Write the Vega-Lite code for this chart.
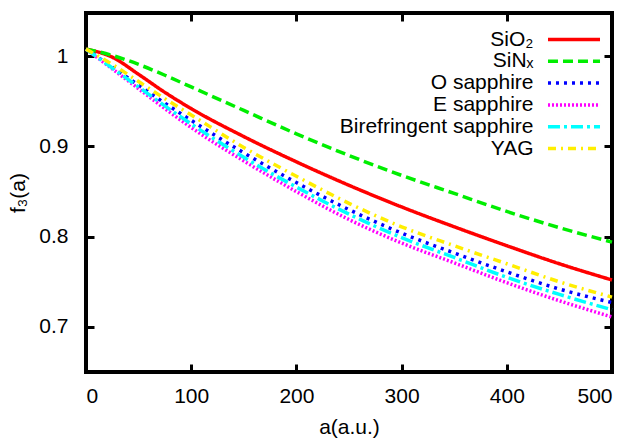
{
  "$schema": "https://vega.github.io/schema/vega-lite/v6.json",
  "autosize": "none",
  "width": 526,
  "height": 359,
  "padding": {"left": 86, "top": 13, "right": 24, "bottom": 67},
  "background": "white",
  "config": {
    "view": {"stroke": "black", "strokeWidth": 4},
    "font": "Liberation Sans",
    "axis": {
      "grid": false, "domain": false,
      "tickColor": "black", "tickWidth": 3, "tickSize": -8,
      "labelFont": "Liberation Sans", "labelFontSize": 21, "labelColor": "black",
      "titleFont": "Liberation Sans", "titleFontSize": 21, "titleFontWeight": "normal", "titleColor": "black"
    },
    "legend": {"orient": "none", "legendX": 477, "legendY": 15.5, "title": null, "symbolType": "M-2.89,0H2.89", "symbolSize": 324, "symbolStrokeWidth": 3.5, "labelAlign": "right", "labelOffset": -51.5, "labelFontSize": 21, "labelFont": "Liberation Sans", "labelColor": "black", "padding": 0, "rowPadding": 0.8, "labelLimit": 400}
  },
  "datasets": {
    "curves": [
      {"a": 0, "f": 1.008, "s": "SiO₂"}, {"a": 25, "f": 0.999, "s": "SiO₂"}, {"a": 50, "f": 0.980, "s": "SiO₂"}, {"a": 75, "f": 0.960, "s": "SiO₂"}, {"a": 100, "f": 0.942, "s": "SiO₂"}, {"a": 150, "f": 0.911, "s": "SiO₂"}, {"a": 200, "f": 0.883, "s": "SiO₂"}, {"a": 250, "f": 0.857, "s": "SiO₂"}, {"a": 300, "f": 0.833, "s": "SiO₂"}, {"a": 350, "f": 0.811, "s": "SiO₂"}, {"a": 400, "f": 0.790, "s": "SiO₂"}, {"a": 450, "f": 0.770, "s": "SiO₂"}, {"a": 500, "f": 0.752, "s": "SiO₂"},
      {"a": 0, "f": 1.008, "s": "SiNₓ"}, {"a": 25, "f": 1.001, "s": "SiNₓ"}, {"a": 50, "f": 0.991, "s": "SiNₓ"}, {"a": 75, "f": 0.979, "s": "SiNₓ"}, {"a": 100, "f": 0.966, "s": "SiNₓ"}, {"a": 150, "f": 0.940, "s": "SiNₓ"}, {"a": 200, "f": 0.914, "s": "SiNₓ"}, {"a": 250, "f": 0.890, "s": "SiNₓ"}, {"a": 300, "f": 0.868, "s": "SiNₓ"}, {"a": 350, "f": 0.848, "s": "SiNₓ"}, {"a": 400, "f": 0.828, "s": "SiNₓ"}, {"a": 450, "f": 0.810, "s": "SiNₓ"}, {"a": 500, "f": 0.794, "s": "SiNₓ"},
      {"a": 0, "f": 1.008, "s": "O sapphire"}, {"a": 25, "f": 0.988, "s": "O sapphire"}, {"a": 50, "f": 0.968, "s": "O sapphire"}, {"a": 75, "f": 0.948, "s": "O sapphire"}, {"a": 100, "f": 0.929, "s": "O sapphire"}, {"a": 150, "f": 0.893, "s": "O sapphire"}, {"a": 200, "f": 0.860, "s": "O sapphire"}, {"a": 250, "f": 0.830, "s": "O sapphire"}, {"a": 300, "f": 0.804, "s": "O sapphire"}, {"a": 350, "f": 0.782, "s": "O sapphire"}, {"a": 400, "f": 0.761, "s": "O sapphire"}, {"a": 450, "f": 0.742, "s": "O sapphire"}, {"a": 500, "f": 0.727, "s": "O sapphire"},
      {"a": 0, "f": 1.008, "s": "E sapphire"}, {"a": 25, "f": 0.986, "s": "E sapphire"}, {"a": 50, "f": 0.964, "s": "E sapphire"}, {"a": 75, "f": 0.942, "s": "E sapphire"}, {"a": 100, "f": 0.921, "s": "E sapphire"}, {"a": 150, "f": 0.884, "s": "E sapphire"}, {"a": 200, "f": 0.850, "s": "E sapphire"}, {"a": 250, "f": 0.819, "s": "E sapphire"}, {"a": 300, "f": 0.793, "s": "E sapphire"}, {"a": 350, "f": 0.771, "s": "E sapphire"}, {"a": 400, "f": 0.749, "s": "E sapphire"}, {"a": 450, "f": 0.729, "s": "E sapphire"}, {"a": 500, "f": 0.711, "s": "E sapphire"},
      {"a": 0, "f": 1.008, "s": "Birefringent sapphire"}, {"a": 25, "f": 0.987, "s": "Birefringent sapphire"}, {"a": 50, "f": 0.966, "s": "Birefringent sapphire"}, {"a": 75, "f": 0.945, "s": "Birefringent sapphire"}, {"a": 100, "f": 0.925, "s": "Birefringent sapphire"}, {"a": 150, "f": 0.888, "s": "Birefringent sapphire"}, {"a": 200, "f": 0.855, "s": "Birefringent sapphire"}, {"a": 250, "f": 0.825, "s": "Birefringent sapphire"}, {"a": 300, "f": 0.799, "s": "Birefringent sapphire"}, {"a": 350, "f": 0.777, "s": "Birefringent sapphire"}, {"a": 400, "f": 0.755, "s": "Birefringent sapphire"}, {"a": 450, "f": 0.736, "s": "Birefringent sapphire"}, {"a": 500, "f": 0.719, "s": "Birefringent sapphire"},
      {"a": 0, "f": 1.008, "s": "YAG"}, {"a": 25, "f": 0.991, "s": "YAG"}, {"a": 50, "f": 0.972, "s": "YAG"}, {"a": 75, "f": 0.953, "s": "YAG"}, {"a": 100, "f": 0.935, "s": "YAG"}, {"a": 150, "f": 0.899, "s": "YAG"}, {"a": 200, "f": 0.867, "s": "YAG"}, {"a": 250, "f": 0.837, "s": "YAG"}, {"a": 300, "f": 0.811, "s": "YAG"}, {"a": 350, "f": 0.790, "s": "YAG"}, {"a": 400, "f": 0.770, "s": "YAG"}, {"a": 450, "f": 0.750, "s": "YAG"}, {"a": 500, "f": 0.733, "s": "YAG"}
    ]
  },
  "data": {"name": "curves"},
  "layer": [
    {
      "mark": {"type": "line", "strokeWidth": 3.5, "interpolate": "monotone"},
      "encoding": {
        "x": {"field": "a", "type": "quantitative", "scale": {"domain": [0, 500], "nice": false},
              "axis": {"orient": "bottom", "values": [0, 100, 200, 300, 400, 500], "title": "a(a.u.)", "ticks": true, "tickSize": -8, "labelPadding": 21, "titlePadding": 10}},
        "y": {"field": "f", "type": "quantitative", "scale": {"domain": [0.65, 1.048], "nice": false, "zero": false},
              "axis": {"orient": "left", "values": [0.7, 0.8, 0.9, 1], "labelExpr": "format(datum.value, '~g')", "title": "f₃(a)", "ticks": true, "tickSize": -8, "labelPadding": 26, "titlePadding": 10}},
        "color": {"field": "s", "type": "nominal",
                  "scale": {"domain": ["SiO₂", "SiNₓ", "O sapphire", "E sapphire", "Birefringent sapphire", "YAG"],
                            "range": ["#ff0000", "#00ee00", "#0000ff", "#ff00ff", "#00ffff", "#ffee00"]}},
        "strokeDash": {"field": "s", "type": "nominal",
                  "scale": {"domain": ["SiO₂", "SiNₓ", "O sapphire", "E sapphire", "Birefringent sapphire", "YAG"],
                            "range": [[1, 0], [10, 5], [3, 5], [2, 2], [12, 4, 3, 4], [8, 5, 2, 5]]}}
      }
    },
    {
      "mark": {"type": "point", "opacity": 0},
      "encoding": {
        "x": {"field": "a", "type": "quantitative", "axis": {"orient": "top", "labels": false, "title": null, "values": [0, 100, 200, 300, 400, 500]}},
        "y": {"field": "f", "type": "quantitative", "axis": {"orient": "right", "labels": false, "title": null, "values": [0.7, 0.8, 0.9, 1]}}
      }
    }
  ]
}
